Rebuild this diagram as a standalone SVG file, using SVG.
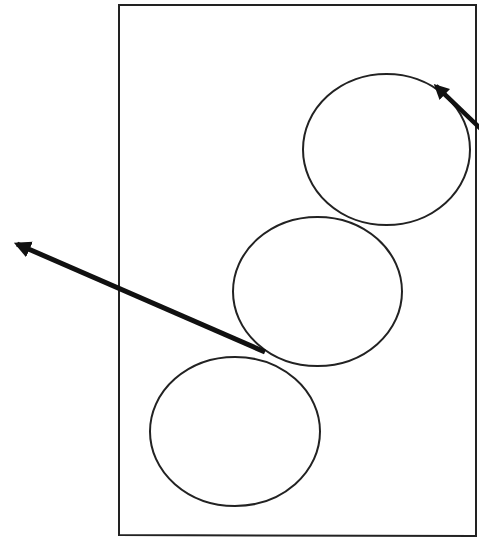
<svg xmlns="http://www.w3.org/2000/svg" width="479" height="540" viewBox="0 0 479 540">
<style>
.frame{fill:none;stroke:#222;stroke-width:2}
.ball{fill:none;stroke:#222;stroke-width:2}
.arrow{fill:none;stroke:#111;stroke-width:5;stroke-linecap:butt}
</style>
<defs>
<marker id="ah" viewBox="0 0 10 10" refX="8" refY="5" markerWidth="3.4" markerHeight="3.4" orient="auto" markerUnits="strokeWidth">
<path d="M0,0 L10,5 L0,10 z" fill="#111"/>
</marker>
</defs>
<rect width="479" height="540" fill="#fff"/>
<g id="frame"><path class="frame" d="M119,5 L476,5 L476,536 L119,535 Z"/></g>
<g id="ball-top"><ellipse class="ball" cx="386.5" cy="149.5" rx="83.5" ry="75.5"/></g>
<g id="ball-middle"><ellipse class="ball" cx="317.5" cy="291.5" rx="84.5" ry="74.5"/></g>
<g id="ball-bottom"><ellipse class="ball" cx="235" cy="431.5" rx="85" ry="74.5"/></g>
<g id="connectors">
<line class="arrow" x1="265" y1="352" x2="17" y2="244" marker-end="url(#ah)"/>
<line class="arrow" style="stroke-width:4.5" x1="482" y1="130" x2="436" y2="86" marker-end="url(#ah)"/>
</g>
</svg>
